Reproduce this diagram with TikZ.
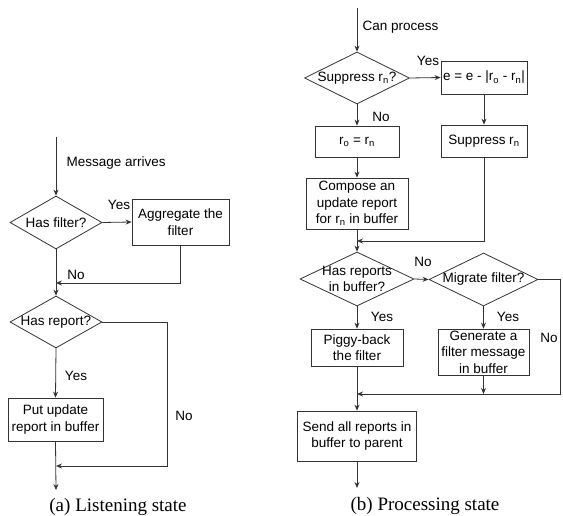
\documentclass[tikz,border=0pt]{standalone}
\usepackage{fontspec}
\setmainfont{Liberation Sans}
\newfontfamily\capfont{Liberation Serif}
\usepackage{tikz}
\usetikzlibrary{shapes.geometric,arrows.meta}

\newcommand{\rsub}[1]{r\textsubscript{#1}}

\begin{document}
\begin{tikzpicture}[x=1pt, y=-1pt,
  font=\fontsize{13.5}{16.5}\selectfont,
  line/.style={draw=black!80, line width=0.8pt},
  arr/.style={line, -{Stealth[length=6pt,width=5pt]}},
  box/.style={line, rectangle, inner sep=0pt, align=center},
  decide/.style={line, diamond, inner sep=0pt, aspect=2},
  captext/.style={font=\capfont\fontsize{19}{22}\selectfont}]

  \useasboundingbox (0,0) rectangle (563,516);

  % (a) 监听状态
  \coordinate (startA) at (56,137);
  \node[decide, minimum width=92pt, minimum height=53pt,
        label={center:Has filter?}] (hf) at (56,222.5) {};
  \node[box, minimum width=97pt, minimum height=46pt] (agg) at (180.5,222)
    {Aggregate the\\filter};
  \node[decide, minimum width=92pt, minimum height=52pt,
        label={center:Has report?}] (hr) at (56,322) {};
  \node[box, minimum width=95pt, minimum height=43pt] (put) at (55.5,419.5)
    {Put update\\report in buffer};
  \coordinate (ja) at (56,283);
  \coordinate (jb) at (56,466);
  \coordinate (endA) at (56,490);

  \draw[arr] (startA) -- (hf.north);
  \draw[arr] (hf.east) -- (agg.west);
  \draw[arr] (agg.south) |- (ja);
  \draw[arr] (hf.south) -- (hr.north);
  \draw[arr] (hr.south) -- (put.north);
  \draw[arr] (hr.east) -- +(65,0) |- (jb);
  \draw[arr] (put.south) -- (endA);

  \node[right] (lmsg) at (63,163) {Message arrives};
  \node (lyesa) at (119,205) {Yes};
  \node (lnoa) at (76,275) {No};
  \node (lyesb) at (76,376) {Yes};
  \node (lnob) at (184,416) {No};
  \node[captext] (capa) at (118,507) {(a) Listening state};

  % (b) 处理状态
  \coordinate (startB) at (357,8);
  \node[decide, minimum width=105pt, minimum height=52pt,
        label={center:Suppress \rsub{n}?}] (sup) at (357,78) {};
  \node[box, minimum width=86pt, minimum height=33pt] (eq) at (484,77.5)
    {e = e - |\rsub{o} - \rsub{n}|};
  \node[box, minimum width=86pt, minimum height=32pt] (sp) at (484,141)
    {Suppress \rsub{n}};
  \node[box, minimum width=84pt, minimum height=31pt] (ro) at (357,141.5)
    {\rsub{o} = \rsub{n}};
  \node[box, minimum width=102pt, minimum height=51pt] (comp) at (357,203.5)
    {Compose an\\update report\\for \rsub{n} in buffer};
  \node[decide, minimum width=114pt, minimum height=54pt,
        label={[align=center]center:Has reports\\in buffer?}] (hasr) at (357,279) {};
  \node[decide, minimum width=109pt, minimum height=53pt,
        label={center:Migrate filter?}] (mig) at (483.5,279.5) {};
  \node[box, minimum width=92pt, minimum height=37pt] (pig) at (357,347.5)
    {Piggy-back\\the filter};
  \node[box, minimum width=91pt, minimum height=46pt] (gen) at (483.5,352)
    {Generate a\\filter message\\in buffer};
  \node[box, minimum width=119pt, minimum height=50pt] (send) at (357,436)
    {Send all reports in\\buffer to parent};
  \coordinate (jc) at (357,241);
  \coordinate (jd) at (357,394);
  \coordinate (endB) at (357,488);

  \draw[arr] (startB) -- (sup.north);
  \draw[arr] (sup.east) -- (eq.west);
  \draw[arr] (eq.south) -- (sp.north);
  \draw[arr] (sup.south) -- (ro.north);
  \draw[arr] (ro.south) -- (comp.north);
  \draw[arr] (sp.south) |- (jc);
  \draw[arr] (comp.south) -- (hasr.north);
  \draw[arr] (hasr.east) -- (mig.west);
  \draw[arr] (hasr.south) -- (pig.north);
  \draw[arr] (mig.south) -- (gen.north);
  \draw[arr] (mig.east) -- +(22,0) |- (jd);
  \draw[arr] (gen.south) -- (gen.south |- jd);
  \draw[arr] (pig.south) -- (send.north);
  \draw[arr] (send.south) -- (endB);

  \node[right] (lcan) at (359,27) {Can process};
  \node (lyesc) at (428,61) {Yes};
  \node (lnoc) at (381,117) {No};
  \node (lnod) at (423,262) {No};
  \node (lyesd) at (382,317) {Yes};
  \node (lyese) at (508,317) {Yes};
  \node (lnoe) at (549,338) {No};
  \node[captext] (capb) at (425,506) {(b) Processing state};

\end{tikzpicture}
\end{document}
